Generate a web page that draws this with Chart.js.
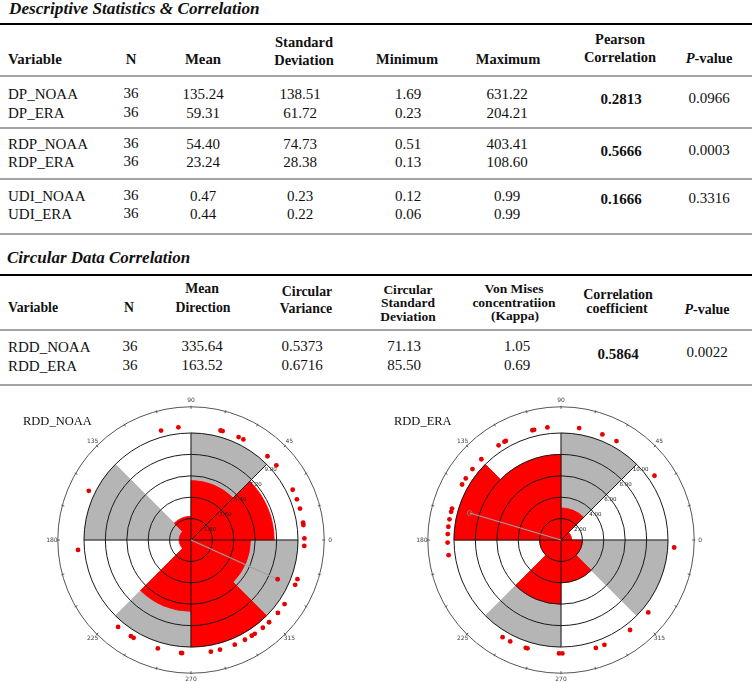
<!DOCTYPE html>
<html>
<head>
<meta charset="utf-8">
<script src="https://cdn.jsdelivr.net/npm/chart.js@4.4.0/dist/chart.umd.min.js"></script>
<style>
  body { margin: 0; background: #fff; width: 754px; height: 682px; position: relative; overflow: hidden;
         font-family: "Liberation Serif", "Times New Roman", serif; color: #111; }
  .t { position: absolute; white-space: nowrap; line-height: 1; }
  .rule { position: absolute; left: 0; width: 752px; }
  .rose { position: absolute; width: 300px; height: 284px; }
</style>
</head>
<body>
<div class="rose" style="left:41px;top:397px"><canvas id="noaa"></canvas></div>
<div class="rose" style="left:411px;top:397px"><canvas id="era"></canvas></div>
<script>
// descriptive statistics table
const descVars = ['DP_NOAA', 'DP_ERA', 'RDP_NOAA', 'RDP_ERA', 'UDI_NOAA', 'UDI_ERA'];
const descN = ['36', '36', '36', '36', '36', '36'];
const descMean = ['135.24', '59.31', '54.40', '23.24', '0.47', '0.44'];
const descSd = ['138.51', '61.72', '74.73', '28.38', '0.23', '0.22'];
const descMin = ['1.69', '0.23', '0.51', '0.13', '0.12', '0.06'];
const descMax = ['631.22', '204.21', '403.41', '108.60', '0.99', '0.99'];
const pearson = ['0.2813', '0.5666', '0.1666'];
const pearsonP = ['0.0966', '0.0003', '0.3316'];

// circular correlation table
const circVars = ['RDD_NOAA', 'RDD_ERA'];
const circN = ['36', '36'];
const circMeanDir = ['335.64', '163.52'];
const circVariance = ['0.5373', '0.6716'];
const circSd = ['71.13', '85.50'];
const circKappa = ['1.05', '0.69'];
const circCorr = '0.5864';
const circP = '0.0022';

// rose diagrams: 45 degree bins, listed clockwise starting at 90 degrees
const bins = ['45-90', '0-45', '315-360', '270-315', '225-270', '180-225', '135-180', '90-135'];
const noaaCounts = [5, 7, 5, 9, 6, 1, 1, 2];
const eraCounts = [3, 1, 2, 4, 6, 2, 10, 8];
const noaaShade = [9, 0, 9, 0, 9, 0, 9, 0];
const eraShade = [10, 0, 10, 0, 10, 0, 10, 0];
const noaaStep = 1.8, noaaMax = 9;
const eraStep = 2, eraMax = 10;
const angleMarks = [0, 45, 90, 135, 180, 225, 270, 315];
const angleLabels = ['0', '45', '90', '135', '180', '225', '270', '315'];

// single observations (degrees, counter-clockwise from east)
const noaaDirs = [105.3, 96.4, 74.9, 73.8, 65.2, 62.5, 47.6, 41.2, 26.3, 21.0, 16.1, 8.8, 7.6, 0.8, 357.0,
  154.3, 185.0, 339.8, 336.7, 325.6, 320.0, 313.5, 309.3, 304.2, 302.4, 298.4, 292.7, 284.8, 280.1,
  265.0, 265.5, 253.0, 239.6, 238.0, 230.0];
const eraDirs = [119.9, 104.6, 103.7, 96.9, 80.8, 68.6, 60.7, 34.5, 356.2, 320.3, 307.5, 292.5, 287.9,
  270.7, 269.0, 252.8, 251.9, 243.4, 239.0, 187.7, 181.3, 177.0, 173.3, 169.5, 165.6, 163.9, 150.7,
  147.1, 141.3, 134.6, 123.4, 119.1];
const noaaMean = [335.64, 8.0];   // direction, length on the count scale
const eraMean = [163.52, 8.9];

// ---- text helpers
function put(txt, x, base, size, style, align) {
  const d = document.createElement('div');
  d.className = 't';
  d.innerHTML = txt;
  d.style.fontSize = size + 'px';
  d.style.top = (base - size * 0.84) + 'px';
  if (align === 'left') {
    d.style.left = x + 'px';
  } else {
    d.style.left = (x - 100) + 'px';
    d.style.width = '200px';
    d.style.textAlign = 'center';
  }
  if (style) d.style.cssText += style;
  document.body.appendChild(d);
}
function rule(y, h, color) {
  const d = document.createElement('div');
  d.className = 'rule';
  d.style.top = y + 'px';
  d.style.height = h + 'px';
  d.style.background = color;
  document.body.appendChild(d);
}

const B = 'font-weight:bold;';
const BI = 'font-weight:bold;font-style:italic;';
const GRAY = '#a3a3a3';
const FS = 15;

// ---- table 1
put('Descriptive Statistics &amp; Correlation', 9, 14, 17.2, BI, 'left');
rule(22.5, 2, '#000');
put('Variable', 8, 64, 14.8, B, 'left');
put('N', 131, 64, 14.8, B);
put('Mean', 203, 64, 14.8, B);
put('Standard', 304, 47, 14.5, B);
put('Deviation', 304, 65, 14.5, B);
put('Minimum', 407, 64, 14.5, B);
put('Maximum', 508, 64, 14.5, B);
put('Pearson', 620, 44, 14.5, B);
put('Correlation', 620, 62, 14.5, B);
put('<i>P</i>-value', 709, 63, 14.5, B);
rule(75, 2, GRAY);

const descBase = [100, 119, 150, 168, 202, 220];
descVars.forEach((v, i) => {
  const b = descBase[i];
  put(v, 8, b, FS, '', 'left');
  put(descN[i], 131, b - 1, FS);
  put(descMean[i], 203, b, FS);
  put(descSd[i], 300, b, FS);
  put(descMin[i], 408, b, FS);
  put(descMax[i], 507, b, FS);
});
const groupBase = [105, 157, 205];
pearson.forEach((c, i) => {
  put(c, 621, groupBase[i], FS, B);
  put(pearsonP[i], 709, groupBase[i] - 1, FS);
});
rule(127, 2, GRAY);
rule(177.5, 2, GRAY);
rule(232.5, 2, GRAY);

// ---- table 2
put('Circular Data Correlation', 7, 263, 17, BI, 'left');
rule(274, 2, '#000');
put('Variable', 8, 313, 13.8, B, 'left');
put('N', 129, 313, 13.8, B);
put('Mean', 202, 294, 13.8, B);
put('Direction', 203, 313, 13.8, B);
put('Circular', 307, 297, 13.8, B);
put('Variance', 306, 314, 13.8, B);
put('Circular', 408, 294, 13.5, B);
put('Standard', 408, 307.5, 13.5, B);
put('Deviation', 408, 321, 13.5, B);
put('Von Mises', 514, 293, 13.5, B);
put('concentratiion', 514, 307, 13.5, B);
put('(Kappa)', 515, 320, 13.5, B);
put('Correlation', 618, 300, 14, B);
put('coefficient', 617, 314, 14, B);
put('<i>P</i>-value', 707, 315, 14, B);
rule(328.5, 2, GRAY);

const circBase = [353, 372];
circVars.forEach((v, i) => {
  const b = circBase[i];
  put(v, 8, b, FS, '', 'left');
  put(circN[i], 130, b - 1, FS);
  put(circMeanDir[i], 202, b - 1, FS);
  put(circVariance[i], 302, b - 1, FS);
  put(circSd[i], 404, b - 1, FS);
  put(circKappa[i], 517, b - 1, FS);
});
put(circCorr, 618, 360, FS, B);
put(circP, 707, 358, FS);
rule(384, 2, GRAY);

put('RDD_NOAA', 23, 425, 12.5, '', 'left');
put('RDD_ERA', 394, 425, 12.5, '', 'left');

// ---- rose diagrams
const axisIdx = [0, 1, 2, 4, 6];   // boundaries at 90, 45, 0, 270, 180 degrees

function roseExtras(dirs, mean, meanFilled) {
  return {
    id: 'roseExtras',
    afterDraw(chart) {
      const s = chart.scales.r;
      const ctx = chart.ctx;
      const cx = s.xCenter, cy = s.yCenter, R = s.drawingArea;
      const at = (deg, d) => [cx + d * Math.cos(deg * Math.PI / 180), cy - d * Math.sin(deg * Math.PI / 180)];
      ctx.save();

      // outer circle with 15 degree ticks
      const Ro = R * 1.245;
      ctx.strokeStyle = '#555';
      ctx.lineWidth = 1;
      ctx.beginPath();
      ctx.arc(cx, cy, Ro, 0, Math.PI * 2);
      ctx.stroke();
      for (let a = 0; a < 360; a += 15) {
        const p = at(a, Ro - 2), q = at(a, Ro + 1);
        ctx.beginPath();
        ctx.moveTo(p[0], p[1]);
        ctx.lineTo(q[0], q[1]);
        ctx.stroke();
      }

      // direction labels
      ctx.fillStyle = '#444';
      ctx.font = '6px "DejaVu Sans"';
      ctx.textAlign = 'center';
      ctx.textBaseline = 'middle';
      angleLabels.forEach((t, i) => {
        const p = at(angleMarks[i], R * 1.30);
        ctx.fillText(t, p[0], p[1]);
      });

      // count labels along the 45 degree line
      ctx.fillStyle = '#222';
      ctx.font = '5.5px "DejaVu Sans"';
      s.ticks.forEach(t => {
        if (t.value <= 0) return;
        const p = at(45, s.getDistanceFromCenterForValue(t.value));
        ctx.fillText(t.value.toFixed(2), p[0] + 4, p[1] + 5);
      });

      // mean direction
      const m = at(mean[0], s.getDistanceFromCenterForValue(mean[1]));
      ctx.strokeStyle = '#a0a0a0';
      ctx.lineWidth = 1.2;
      ctx.beginPath();
      ctx.moveTo(cx, cy);
      ctx.lineTo(m[0], m[1]);
      ctx.stroke();
      ctx.beginPath();
      ctx.arc(m[0], m[1], 2.4, 0, Math.PI * 2);
      if (meanFilled) {
        ctx.fillStyle = '#e60000';
        ctx.fill();
      } else {
        ctx.strokeStyle = '#888';
        ctx.lineWidth = 0.8;
        ctx.stroke();
      }

      // observations on the rim
      ctx.fillStyle = '#e60000';
      dirs.forEach(d => {
        const p = at(d, R * 1.06);
        ctx.beginPath();
        ctx.arc(p[0], p[1], 2.4, 0, Math.PI * 2);
        ctx.fill();
      });
      ctx.restore();
    }
  };
}

function makeRose(id, counts, shade, step, max, dirs, mean, meanFilled) {
  new Chart(document.getElementById(id), {
    type: 'polarArea',
    data: {
      labels: bins,
      datasets: [
        { data: counts, backgroundColor: '#ff0000', borderColor: '#ff0000', borderWidth: 0.8, order: 0 },
        { data: shade, backgroundColor: '#b5b5b5', borderColor: '#b5b5b5', borderWidth: 0.8, order: 1 }
      ]
    },
    options: {
      responsive: true,
      maintainAspectRatio: false,
      animation: false,
      layout: { padding: { left: 43, right: 43, top: 36, bottom: 34 } },
      plugins: { legend: { display: false }, tooltip: { enabled: false } },
      scales: {
        r: {
          min: 0,
          max: max,
          startAngle: 0,
          ticks: { display: false, stepSize: step, z: 1 },
          grid: { circular: true, color: '#1a1a1a', lineWidth: 1, z: 1 },
          angleLines: {
            display: true,
            lineWidth: 1,
            color: ctx => axisIdx.includes(ctx.index) ? '#1a1a1a' : 'rgba(0,0,0,0)'
          },
          pointLabels: { display: false }
        }
      }
    },
    plugins: [roseExtras(dirs, mean, meanFilled)]
  });
}

makeRose('noaa', noaaCounts, noaaShade, noaaStep, noaaMax, noaaDirs, noaaMean, true);
makeRose('era', eraCounts, eraShade, eraStep, eraMax, eraDirs, eraMean, false);
</script>
</body>
</html>
